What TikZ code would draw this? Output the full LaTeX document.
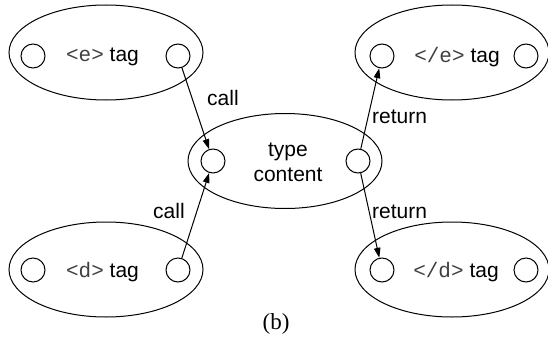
\documentclass[tikz,border=0pt]{standalone}
\usepackage{fontspec}
\setmainfont{Liberation Sans}
\newfontfamily\monof{Liberation Mono}
\newfontfamily\seriff{Liberation Serif}
\usetikzlibrary{shapes.geometric,arrows.meta}
\tikzset{
  big/.style={draw,ellipse,line width=1pt,minimum width=194pt,minimum height=95pt,inner sep=0pt},
  port/.style={draw,circle,line width=1pt,minimum size=24pt,inner sep=0pt},
  lbl/.style={font=\fontsize{21}{25}\selectfont,inner sep=0pt},
  conn/.style={line width=1pt,-{Triangle[length=10pt,width=6.5pt]}},
}
\newcommand{\mt}[1]{{\monof\color{black!75}#1}}
\begin{document}
\begin{tikzpicture}[x=1pt,y=-1pt]
\useasboundingbox (0,0) rectangle (548,337);
% ellipses
\node[big] (E) at (106,52.5) {};
\node[big] (CE) at (452,52.5) {};
\node[big] (T) at (285,161) {};
\node[big] (D) at (106,269.5) {};
\node[big] (CD) at (452,269.5) {};
% ports
\node[port] (El) at (33,56) {};
\node[port] (Er) at (178,56) {};
\node[port] (CEl) at (382,56) {};
\node[port] (CEr) at (526,56) {};
\node[port] (Tl) at (213,161) {};
\node[port] (Tr) at (358,161) {};
\node[port] (Dl) at (33,270) {};
\node[port] (Dr) at (178,270) {};
\node[port] (CDl) at (382,270) {};
\node[port] (CDr) at (526,270) {};
% texts
\node[lbl,anchor=base] (Et) at (102.5,62) {\mt{<e>} tag};
\node[lbl,anchor=base] (CEt) at (457,63) {\mt{</e>} tag};
\node[lbl,anchor=base] (Dt) at (102.5,277) {\mt{<d>} tag};
\node[lbl,anchor=base] (CDt) at (456,277) {\mt{</d>} tag};
\node[lbl,align=center] (Tt) at (288,162.5) {type\\content};
% connectors
\draw[conn] (Er) -- (Tl);
\draw[conn] (Dr) -- (Tl);
\draw[conn] (Tr) -- (CEl);
\draw[conn] (Tr) -- (CDl);
% connector labels
\node[lbl,anchor=base west] (c1) at (207,105) {call};
\node[lbl,anchor=base west] (c2) at (153,218) {call};
\node[lbl,anchor=base west] (r1) at (372,123) {return};
\node[lbl,anchor=base west] (r2) at (372,218) {return};
% caption
\node[inner sep=0pt,anchor=base,font=\seriff\fontsize{23}{27}\selectfont] (cap) at (276,329) {(b)};
\end{tikzpicture}
\end{document}
